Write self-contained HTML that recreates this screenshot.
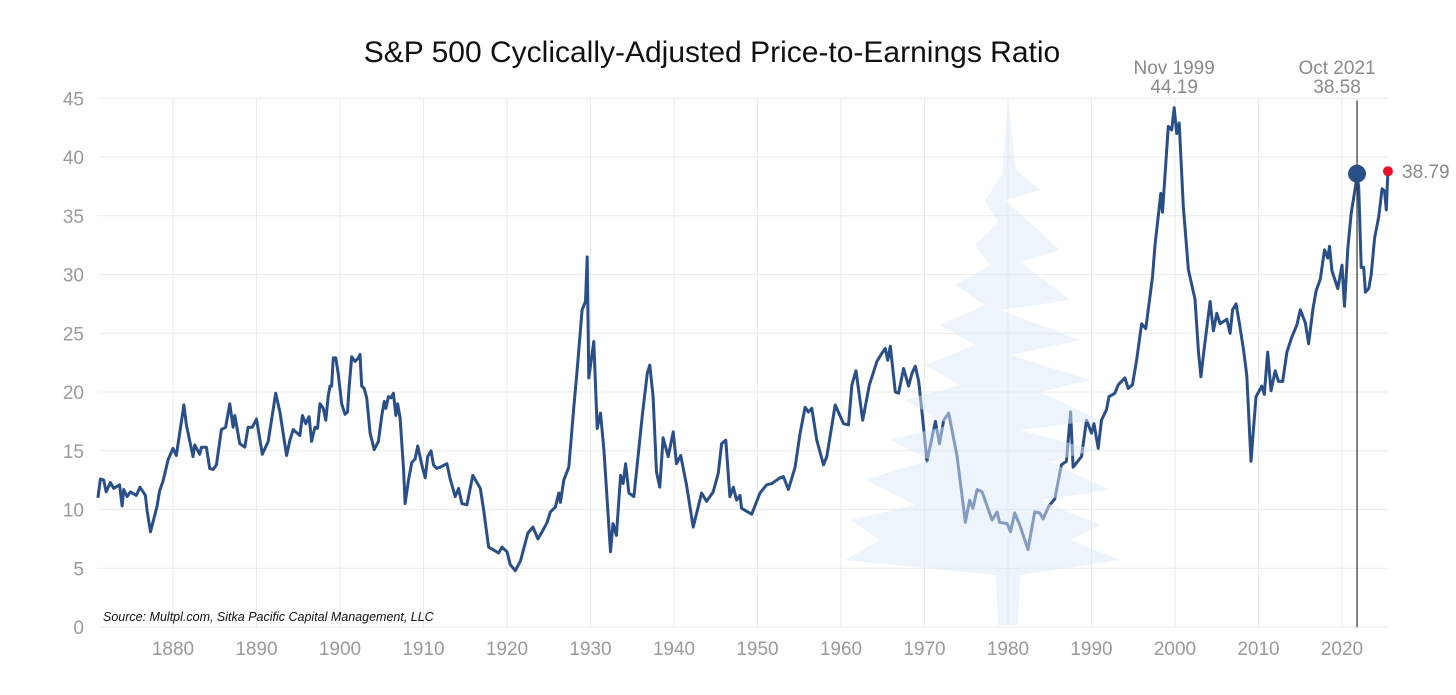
<!DOCTYPE html>
<html><head><meta charset="utf-8"><style>
html,body{margin:0;padding:0;background:#fff;}
svg{display:block;font-family:"Liberation Sans",sans-serif;}
</style></head><body>
<svg id="chart" width="1456" height="695" viewBox="0 0 1456 695">
<text x="712" y="62" text-anchor="middle" font-size="30" fill="#111">S&amp;P 500 Cyclically-Adjusted Price-to-Earnings Ratio</text>
<g id="grid"></g>
<g id="yaxis"></g>
<g id="xaxis"></g>
<g id="series"></g>
<g id="tree" fill="#dbeaf8" opacity="0.5">
<polygon points="1008,100 1016,170 1040,190 1005,200 1060,250 1020,262 1070,300 1000,310 1080,340 1010,355 1090,380 1040,392 1100,420 1020,430 1095,450 1050,462 1110,490 1040,500 1100,525 1070,540 1120,560 1020,575 1018,625 998,625 996,575 845,560 880,540 850,520 915,505 865,480 930,460 890,440 950,425 905,400 960,385 925,365 975,345 940,325 985,305 955,285 990,265 975,245 998,222 985,200 1002,175"/>
</g>
<g id="annot"></g>
<text x="103" y="621" font-size="12.5" font-style="italic" fill="#111">Source: Multpl.com, Sitka Pacific Capital Management, LLC</text>
</svg>
<script>
const years=[1871.0,1871.3,1871.7,1872.0,1872.5,1872.9,1873.6,1873.9,1874.1,1874.5,1874.9,1875.6,1876.05,1876.7,1876.9,1877.3,1878.1,1878.4,1878.8,1879.4,1880.0,1880.4,1880.8,1881.3,1881.6,1882.4,1882.6,1883.2,1883.4,1884.0,1884.4,1884.8,1885.2,1885.8,1886.3,1886.8,1887.2,1887.4,1888.0,1888.6,1889.0,1889.5,1890.0,1890.7,1891.4,1892.3,1892.8,1893.6,1894.0,1894.4,1895.2,1895.5,1895.9,1896.3,1896.6,1897.0,1897.3,1897.6,1898.0,1898.3,1898.6,1898.8,1899.0,1899.2,1899.5,1899.8,1900.2,1900.6,1900.9,1901.1,1901.4,1901.8,1902.2,1902.4,1902.6,1902.9,1903.2,1903.6,1904.1,1904.6,1905.0,1905.3,1905.5,1905.8,1906.1,1906.4,1906.7,1906.9,1907.2,1907.6,1907.8,1908.2,1908.6,1909.0,1909.3,1909.8,1910.2,1910.5,1910.9,1911.2,1911.6,1912.0,1912.8,1913.2,1913.8,1914.2,1914.6,1915.2,1915.9,1916.8,1917.2,1917.8,1919.0,1919.4,1920.0,1920.4,1921.0,1921.6,1922.5,1923.1,1923.7,1924.2,1924.8,1925.2,1925.8,1926.2,1926.4,1926.8,1927.4,1928.0,1928.4,1929.0,1929.4,1929.6,1929.8,1930.4,1930.8,1931.2,1931.6,1932.4,1932.7,1933.1,1933.6,1933.9,1934.2,1934.6,1935.2,1936.2,1936.8,1937.1,1937.5,1937.9,1938.3,1938.7,1939.3,1939.9,1940.3,1940.8,1941.5,1942.3,1943.3,1943.9,1944.7,1945.3,1945.7,1946.2,1946.7,1947.1,1947.5,1947.9,1948.1,1949.3,1950.3,1951.1,1951.7,1952.7,1953.1,1953.7,1954.5,1955.1,1955.7,1956.1,1956.5,1957.1,1957.9,1958.3,1959.3,1960.3,1960.9,1961.3,1961.8,1962.6,1963.4,1964.3,1964.9,1965.3,1965.6,1965.9,1966.5,1966.9,1967.5,1968.1,1968.5,1968.9,1969.3,1969.7,1970.3,1971.3,1971.8,1972.3,1972.9,1973.9,1974.9,1975.4,1975.8,1976.3,1976.9,1978.1,1978.7,1979.0,1979.9,1980.3,1980.8,1981.4,1982.4,1983.2,1983.8,1984.2,1984.9,1985.6,1986.4,1987.0,1987.5,1987.8,1988.8,1989.4,1990.0,1990.3,1990.8,1991.2,1991.8,1992.1,1992.8,1993.2,1994.0,1994.4,1994.9,1995.4,1996.0,1996.5,1997.3,1997.6,1998.3,1998.5,1999.2,1999.6,1999.9,2000.2,2000.5,2001.0,2001.6,2002.4,2002.8,2003.1,2003.5,2004.2,2004.6,2005.0,2005.4,2006.2,2006.6,2006.9,2007.3,2007.7,2008.2,2008.6,2009.1,2009.7,2010.4,2010.7,2011.1,2011.5,2012.0,2012.4,2012.9,2013.4,2014.0,2014.6,2015.0,2015.6,2016.0,2016.5,2016.9,2017.4,2017.9,2018.3,2018.5,2018.8,2019.5,2020.0,2020.3,2020.7,2021.1,2021.8,2022.0,2022.3,2022.6,2022.8,2023.2,2023.5,2023.9,2024.4,2024.8,2025.1,2025.3,2025.5];
const cape=[11.0,12.6,12.5,11.5,12.3,11.8,12.1,10.3,11.7,11.1,11.5,11.2,11.9,11.2,9.9,8.1,10.3,11.6,12.4,14.2,15.2,14.6,16.5,18.9,17.2,14.5,15.5,14.7,15.3,15.3,13.5,13.4,13.8,16.8,17.0,19.0,17.0,18.0,15.6,15.3,17.0,17.0,17.7,14.7,15.8,19.9,18.3,14.6,15.9,16.8,16.3,18.0,17.3,17.9,15.8,17.0,16.9,19.0,18.6,17.6,19.7,20.5,20.5,22.9,22.9,21.5,19.0,18.1,18.3,20.5,23.0,22.6,22.9,23.2,20.5,20.3,19.5,16.5,15.1,15.8,18.0,19.2,18.6,19.6,19.5,19.9,18.0,19.0,17.8,13.5,10.5,12.5,14.0,14.3,15.4,13.8,12.7,14.5,15.0,13.8,13.5,13.6,13.9,12.6,11.1,11.8,10.5,10.4,12.9,11.8,10.0,6.8,6.3,6.8,6.4,5.3,4.8,5.6,8.0,8.5,7.5,8.1,8.9,9.8,10.2,11.4,10.6,12.5,13.6,18.7,21.8,27.0,27.7,31.5,21.2,24.3,16.9,18.2,15.1,6.4,8.8,7.8,12.9,12.2,13.9,11.4,11.1,18.0,21.6,22.3,19.6,13.2,11.9,16.1,14.5,16.6,13.9,14.6,12.1,8.5,11.4,10.7,11.5,13.1,15.6,15.9,11.1,11.9,10.8,11.2,10.1,9.6,11.4,12.1,12.2,12.7,12.8,11.7,13.6,16.5,18.7,18.3,18.6,15.9,13.8,14.5,18.9,17.3,17.2,20.6,21.8,17.6,20.6,22.6,23.3,23.7,22.7,23.9,20.0,19.9,22.0,20.5,21.6,22.2,20.9,18.3,14.1,17.5,15.6,17.6,18.2,14.5,8.9,10.8,10.1,11.7,11.5,9.1,9.8,8.9,8.8,8.1,9.7,8.7,6.6,9.8,9.7,9.2,10.3,10.9,13.8,14.1,18.3,13.6,14.5,17.6,16.5,17.3,15.2,17.6,18.5,19.6,19.9,20.6,21.2,20.3,20.6,22.7,25.8,25.4,29.8,32.5,36.9,35.3,42.6,42.3,44.19,42.0,42.9,35.8,30.4,27.9,23.5,21.3,23.7,27.7,25.2,26.7,25.8,26.2,25.0,27.0,27.5,25.9,23.6,21.4,14.1,19.6,20.5,19.8,23.4,20.1,21.8,20.9,20.9,23.4,24.7,25.7,27.0,25.9,24.1,27.0,28.6,29.6,32.1,31.4,32.4,30.3,28.8,30.8,27.3,32.2,35.2,38.3,37.5,30.6,30.6,28.5,28.8,30.0,33.1,34.9,37.3,37.1,35.5,38.79];
const yTicks=[0,5,10,15,20,25,30,35,40,45];
const xTicks=[1880,1890,1900,1910,1920,1930,1940,1950,1960,1970,1980,1990,2000,2010,2020];
const peakYear=1999.9, peakLabel="Nov 1999", peakValue=44.19;
const highYear=2021.8, highLabel="Oct 2021", highValue=38.58;
const lastValue=38.79;

const NS="http://www.w3.org/2000/svg";
const X=y=>173+(y-1880)*8.35;
const Y=v=>627-v*11.75;
function mk(tag,attrs,parent){const e=document.createElementNS(NS,tag);for(const k in attrs)e.setAttribute(k,attrs[k]);parent.appendChild(e);return e;}
const grid=document.getElementById('grid'),ya=document.getElementById('yaxis'),xa=document.getElementById('xaxis'),ser=document.getElementById('series'),an=document.getElementById('annot');
yTicks.forEach(t=>{
  const l=mk('line',{x1:98,x2:1388,y1:Y(t),y2:Y(t),stroke:'#ebebeb','stroke-width':1},grid);
  
  
  const tx=mk('text',{x:84,y:Y(t)+7,'text-anchor':'end','font-size':19,fill:'#9a9a9a'},ya);
  tx.textContent=t;
  
  
});
xTicks.forEach(t=>{
  const l=mk('line',{x1:X(t),x2:X(t),y1:Y(45),y2:Y(0),stroke:'#ebebeb','stroke-width':1},grid);
  
  
  const tx=mk('text',{x:X(t),y:655,'text-anchor':'middle','font-size':19,fill:'#9a9a9a'},xa);
  tx.textContent=t;
  
  
});
const d=years.map((y,i)=>(i?'L':'M')+X(y).toFixed(1)+','+Y(cape[i]).toFixed(1)).join('');
const p=mk('path',{d:d,fill:'none',stroke:'#2a4f86','stroke-width':3,'stroke-linejoin':'round'},ser);


const vl=mk('line',{x1:X(highYear),x2:X(highYear),y1:Y(45)+2,y2:Y(0),stroke:'#333','stroke-width':1.2},an);


const bd=mk('circle',{cx:X(highYear),cy:Y(highValue),r:9,fill:'#2a4f86'},an);


const rd=mk('circle',{cx:X(years[years.length-1]),cy:Y(lastValue),r:5,fill:'#e8102a'},an);


function lbl(txt,x,y,anchor,name){const t=mk('text',{x:x,y:y,'text-anchor':anchor,'font-size':19,fill:'#8a8a8a'},an);t.textContent=txt;}
lbl(peakLabel,X(peakYear),74,'middle','peak-date-label');
lbl(peakValue.toFixed(2),X(peakYear),93,'middle','peak-value-label');
lbl(highLabel,X(highYear)-20,74,'middle','high-date-label');
lbl(highValue.toFixed(2),X(highYear)-20,93,'middle','high-value-label');
lbl(lastValue.toFixed(2),1402,178,'start','latest-value-label');
</script>
</body></html>
